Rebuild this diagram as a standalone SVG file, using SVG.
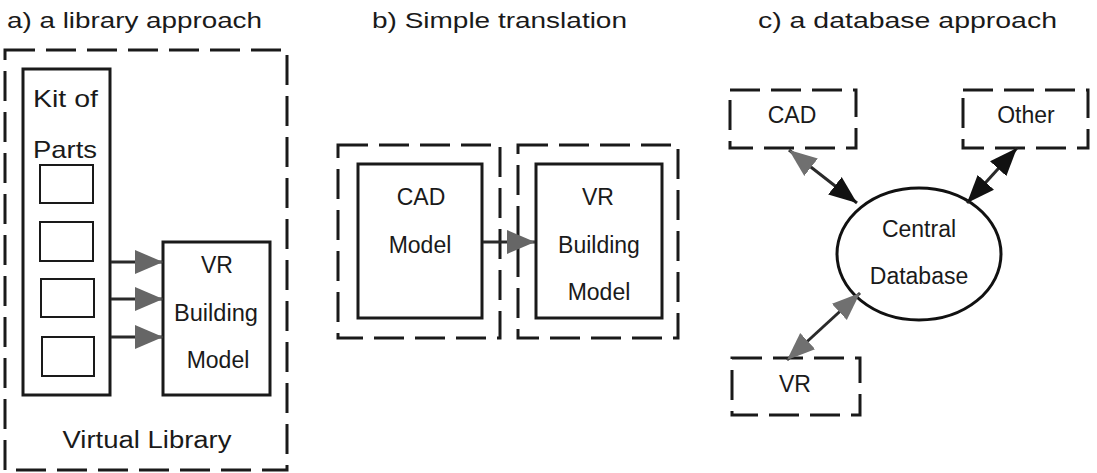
<svg xmlns="http://www.w3.org/2000/svg" width="1097" height="473" viewBox="0 0 1097 473">
  <style>
    text { font-family: "Liberation Sans", Arial, sans-serif; fill: #1a1a1a; }
    .title { font-size: 22px; }
    .lbl { font-size: 23px; text-anchor: middle; }
    .dash { fill: none; stroke: #1a1a1a; stroke-width: 3; stroke-dasharray: 30 11; }
    .solid { fill: #fff; stroke: #1a1a1a; stroke-width: 3; }
    .small { fill: #fff; stroke: #1a1a1a; stroke-width: 2; }
    .conn { stroke: #2a2a2a; stroke-width: 3; fill: none; }
  </style>
  <defs>
    <marker id="ahGray" markerUnits="userSpaceOnUse" markerWidth="30" markerHeight="26" refX="28" refY="13" orient="auto">
      <path d="M0,1 L28,13 L0,25 z" fill="#666"/>
    </marker>
    <marker id="dbBlack" markerUnits="userSpaceOnUse" markerWidth="30" markerHeight="24" refX="28" refY="12" orient="auto-start-reverse">
      <path d="M0,1 L28,12 L0,23 z" fill="#111"/>
    </marker>
    <marker id="dbGray" markerUnits="userSpaceOnUse" markerWidth="30" markerHeight="24" refX="28" refY="12" orient="auto-start-reverse">
      <path d="M0,1 L28,12 L0,23 z" fill="#707070"/>
    </marker>
  </defs>
  <rect width="1097" height="473" fill="#fff"/>

  <!-- Titles -->
  <text class="title" x="7" y="28" textLength="255" lengthAdjust="spacingAndGlyphs">a) a library approach</text>
  <text class="title" x="372" y="28" textLength="255" lengthAdjust="spacingAndGlyphs">b) Simple translation</text>
  <text class="title" x="758" y="28" textLength="299" lengthAdjust="spacingAndGlyphs">c) a database approach</text>

  <!-- Panel a -->
  <g id="virtual-library">
    <rect class="dash" x="5" y="50" width="282" height="420"/>
    <text class="lbl" x="147" y="448" textLength="169" lengthAdjust="spacingAndGlyphs">Virtual Library</text>
  </g>
  <g id="kit-of-parts">
    <rect class="solid" x="23" y="69" width="87" height="326"/>
    <text x="33" y="107" style="font-size:24px" textLength="65" lengthAdjust="spacingAndGlyphs">Kit of</text>
    <text x="33" y="158" style="font-size:24px" textLength="64" lengthAdjust="spacingAndGlyphs">Parts</text>
    <rect class="small" x="40" y="165" width="53" height="38"/>
    <rect class="small" x="40" y="222" width="53" height="39"/>
    <rect class="small" x="41" y="279" width="53" height="38"/>
    <rect class="small" x="42" y="337" width="52" height="39"/>
  </g>
  <g id="vr-building-model-a">
    <rect class="solid" x="163" y="242" width="107" height="153"/>
    <text class="lbl" x="217" y="273">VR</text>
    <text class="lbl" x="216" y="321" textLength="84" lengthAdjust="spacingAndGlyphs">Building</text>
    <text class="lbl" x="218" y="368">Model</text>
  </g>

  <!-- Panel b -->
  <g id="cad-model-b">
    <rect class="dash" x="338" y="145" width="162" height="193"/>
    <rect class="solid" x="358" y="164" width="124" height="154"/>
    <text class="lbl" x="421" y="205">CAD</text>
    <text class="lbl" x="420" y="253">Model</text>
  </g>
  <g id="vr-building-model-b">
    <rect class="dash" x="518" y="145" width="160" height="193"/>
    <rect class="solid" x="536" y="164" width="126" height="154"/>
    <text class="lbl" x="598" y="205">VR</text>
    <text class="lbl" x="599" y="253">Building</text>
    <text class="lbl" x="599" y="300">Model</text>
  </g>

  <!-- Panel c -->
  <g id="cad-c">
    <rect class="dash" x="730" y="90" width="126" height="58"/>
    <text class="lbl" x="792" y="123">CAD</text>
  </g>
  <g id="other-c">
    <rect class="dash" x="963" y="90" width="125" height="58"/>
    <text class="lbl" x="1026" y="123">Other</text>
  </g>
  <g id="central-database">
    <ellipse cx="919" cy="254" rx="82" ry="66" fill="#fff" stroke="#111" stroke-width="3"/>
    <text class="lbl" x="919" y="237">Central</text>
    <text class="lbl" x="919" y="284">Database</text>
  </g>
  <g id="vr-c">
    <rect class="dash" x="732" y="358" width="128" height="57"/>
    <text class="lbl" x="795" y="392">VR</text>
  </g>

  <!-- Connectors -->
  <g id="connectors">
    <line class="conn" x1="111" y1="262" x2="163" y2="262" marker-end="url(#ahGray)"/>
    <line class="conn" x1="111" y1="299" x2="163" y2="299" marker-end="url(#ahGray)"/>
    <line class="conn" x1="111" y1="337" x2="163" y2="337" marker-end="url(#ahGray)"/>
    <line class="conn" x1="483" y1="242" x2="535" y2="242" marker-end="url(#ahGray)"/>
    <line class="conn" x1="789" y1="150" x2="857" y2="203" marker-start="url(#dbGray)" marker-end="url(#dbBlack)"/>
    <line class="conn" x1="1017" y1="148" x2="967" y2="203" marker-start="url(#dbBlack)" marker-end="url(#dbBlack)"/>
    <line class="conn" x1="860" y1="293" x2="787" y2="360" marker-start="url(#dbGray)" marker-end="url(#dbGray)"/>
  </g>
</svg>
